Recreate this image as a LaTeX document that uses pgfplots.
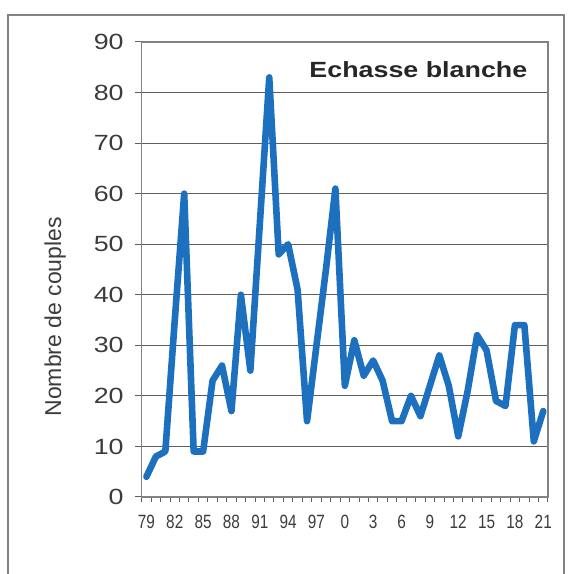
\documentclass[border=0pt]{standalone}
\usepackage{pgfplots}
\pgfplotsset{compat=1.18}
\usepackage{fontspec}
\setmainfont{Liberation Sans}
\newfontfamily\widefont[FakeStretch=1.22]{Liberation Sans}
\newfontfamily\narrowfont[FakeStretch=0.8]{Liberation Sans}
\definecolor{lineblue}{RGB}{28,112,190}
\definecolor{gridgray}{RGB}{95,95,95}
\definecolor{framegray}{RGB}{130,130,130}
\definecolor{labelgray}{RGB}{60,60,60}

\begin{document}
\begin{tikzpicture}
% page of 572 x 574 px, 1 px = 0.5pt
\useasboundingbox (0,0) rectangle (286pt,287pt);
\draw[framegray, line width=0.7pt] (4pt,0) -- (4pt,279.5pt) -- (282pt,279.5pt) -- (282pt,0);
\begin{axis}[
    at={(70.85pt,38.5pt)}, anchor=south west,
    scale only axis,
    width=203.15pt, height=227.5pt,
    xmin=-0.5, xmax=42.5,
    ymin=0, ymax=90,
    xtick={0,3,...,42},
    xticklabels={79,82,85,88,91,94,97,0,3,6,9,12,15,18,21},
    minor xtick={-0.5,0.5,...,42.5},
    ytick={0,10,...,90},
    xtick pos=lower, ytick pos=left,
    tick align=outside,
    major tick length=3.5pt,
    minor tick length=2.5pt,
    major x tick style={draw=none},
    tick style={gridgray, line width=0.5pt},
    ymajorgrids,
    grid style={gridgray, line width=0.5pt},
    axis line style={framegray, line width=0.6pt},
    /pgf/number format/assume math mode=true,
    xticklabel style={font=\narrowfont\fontsize{9.6}{9.6}\selectfont, text=labelgray, yshift=-2pt},
    yticklabel style={font=\widefont\fontsize{11}{11}\selectfont, text=labelgray, xshift=-2pt},
    ylabel={Nombre de couples},
    ylabel style={font=\fontsize{11.5}{11.5}\selectfont, text=labelgray,
        at={(axis description cs:-0.213,0.396)}, anchor=center},
    clip=false,
]
\addplot[lineblue, line width=3.3pt, line join=round, line cap=round] coordinates {
    (0,4)(1,8)(2,9)(3,35)(4,60)(5,9)(6,9)(7,23)(8,26)(9,17)
    (10,40)(11,25)(12,54)(13,83)(14,48)(15,50)(16,41)(17,15)(18,30)(19,45)
    (20,61)(21,22)(22,31)(23,24)(24,27)(25,23)(26,15)(27,15)(28,20)(29,16)
    (30,22)(31,28)(32,22)(33,12)(34,21)(35,32)(36,29)(37,19)(38,18)(39,34)
    (40,34)(41,11)(42,17)
};
\node[font=\widefont\bfseries\fontsize{11}{11}\selectfont, anchor=base, text=black!85]
    at (axis description cs:0.681,0.921) {Echasse blanche};
\end{axis}
\end{tikzpicture}
\end{document}
